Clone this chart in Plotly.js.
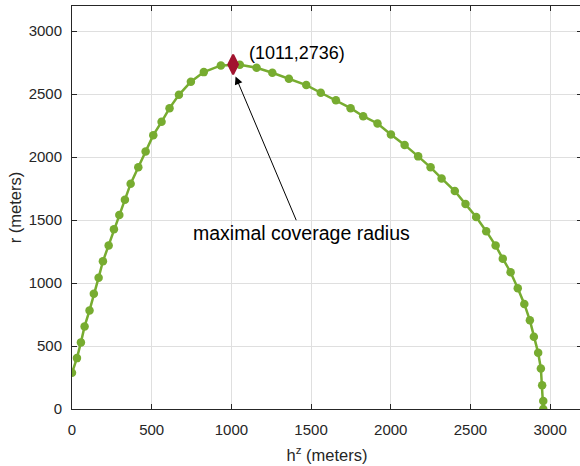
<!DOCTYPE html>
<html>
<head>
<meta charset="utf-8">
<script src="https://cdn.plot.ly/plotly-3.0.1.min.js"></script>
<style>
  html, body { margin: 0; padding: 0; overflow: hidden; background: #fff; }
  #chart { width: 590px; height: 466px; }
</style>
</head>
<body>
<div id="chart"></div>
<script>
// Curve samples: height h^z (meters) vs coverage radius r (meters)
const hz = [0, 31, 56, 79, 110, 137, 167, 194, 230, 263, 297, 332, 368, 416, 462, 510, 562, 612, 671, 746, 827, 934, 1053, 1158, 1257, 1361, 1470, 1561, 1656, 1748, 1827, 1917, 2001, 2087, 2172, 2250, 2319, 2402, 2469, 2536, 2599, 2658, 2703, 2752, 2797, 2838, 2873, 2898, 2925, 2942, 2950, 2957, 2957];
const r = [287, 404, 529, 656, 783, 916, 1043, 1173, 1298, 1428, 1540, 1662, 1789, 1919, 2044, 2174, 2280, 2389, 2495, 2599, 2675, 2728, 2733, 2710, 2670, 2622, 2572, 2511, 2452, 2389, 2325, 2267, 2179, 2097, 2006, 1919, 1831, 1731, 1627, 1524, 1412, 1298, 1194, 1086, 959, 834, 704, 573, 446, 322, 189, 64, 0];

// Maximum point
const maxH = [1011];
const maxR = [2736];
const maxLabel = '(1011,2736)';
const noteText = 'maximal coverage radius';

// Axis ticks
const xTicks = [0, 500, 1000, 1500, 2000, 2500, 3000];
const yTicks = [0, 500, 1000, 1500, 2000, 2500, 3000];

const axisColor = '#262626';
const gridColor = '#dfdfdf';
const font = 'Liberation Sans, Arial, Helvetica, sans-serif';

const traces = [
  {
    x: hz, y: r, type: 'scatter', mode: 'lines+markers',
    line: { color: '#77AC30', width: 2.5 },
    marker: { color: '#77AC30', size: 8.5, symbol: 'circle' },
    hoverinfo: 'x+y', showlegend: false
  },
  {
    x: maxH, y: maxR, type: 'scatter', mode: 'markers',
    marker: { color: '#A2142F', size: 14, symbol: 'diamond-tall', line: { color: '#A2142F', width: 2 } },
    showlegend: false
  }
];

const axisBase = {
  showline: true, linecolor: axisColor, linewidth: 1,
  mirror: 'ticks', ticks: 'inside', ticklen: 5, tickwidth: 1, tickcolor: axisColor,
  showgrid: true, gridcolor: gridColor, gridwidth: 1,
  zeroline: false,
  tickfont: { family: font, size: 15, color: axisColor },
  tickmode: 'array'
};

const layout = {
  width: 590, height: 466,
  margin: { l: 72, r: 8, t: 6, b: 57 },
  paper_bgcolor: '#fff', plot_bgcolor: '#fff',
  font: { family: font, color: axisColor },
  xaxis: Object.assign({}, axisBase, {
    range: [0, 3200], tickvals: xTicks, ticktext: xTicks.map(String),
    ticklabelstandoff: 7,
    title: { text: 'h<sup>z</sup> (meters)', font: { family: font, size: 16.5, color: axisColor }, standoff: 12 }
  }),
  yaxis: Object.assign({}, axisBase, {
    range: [0, 3200], tickvals: yTicks, ticktext: yTicks.map(String),
    ticklabelstandoff: 6,
    title: { text: 'r (meters)', font: { family: font, size: 16.5, color: axisColor }, standoff: 2 }
  }),
  annotations: [
    {
      x: maxH[0], y: maxR[0], xref: 'x', yref: 'y',
      text: maxLabel, showarrow: false,
      xanchor: 'left', yanchor: 'middle', xshift: 14, yshift: 11,
      font: { family: font, size: 18, color: '#000' }
    },
    {
      x: 1026, y: 2641, xref: 'x', yref: 'y',
      ax: 1440, ay: 1400, axref: 'x', ayref: 'y',
      text: noteText, showarrow: true,
      xanchor: 'center', yanchor: 'middle',
      arrowhead: 2, arrowsize: 1.6, arrowwidth: 1, arrowcolor: '#000',
      font: { family: font, size: 19.5, color: '#000' }
    }
  ],
  showlegend: false
};

Plotly.newPlot('chart', traces, layout, { displayModeBar: false, staticPlot: true });
</script>
</body>
</html>
